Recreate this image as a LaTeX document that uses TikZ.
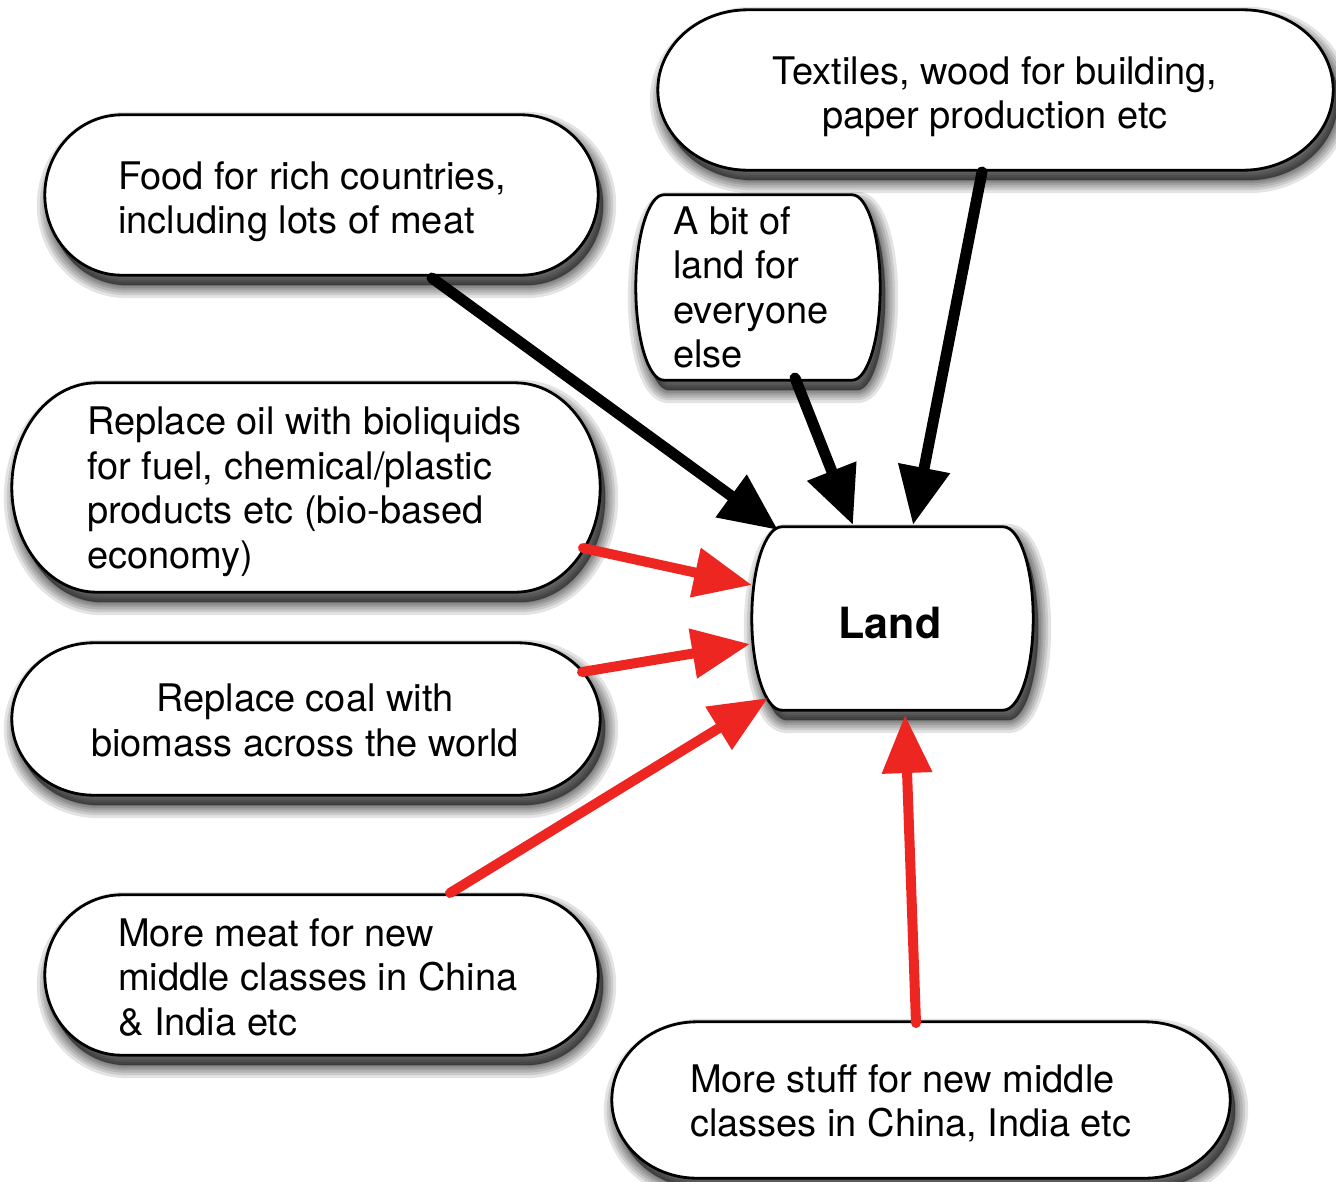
\documentclass[tikz,border=0pt]{standalone}
\usepackage{fontspec}
\setmainfont{TeX Gyre Heros}
\usetikzlibrary{arrows.meta,calc}
\pgfdeclarelayer{shadowlayer}
\pgfdeclarelayer{boxlayer}
\pgfsetlayers{shadowlayer,boxlayer,main}
\definecolor{arrred}{RGB}{238,38,34}
\newcommand\pillpath[2]{let \p1=(#1.north west), \p2=(#1.south east), \n1={(\y1-\y2)/2} in
  (\x1+#2pt,\y1) -- (\x2-#2pt,\y1) arc[start angle=90,end angle=-90,x radius=#2pt,y radius=\n1]
  -- (\x1+#2pt,\y2) arc[start angle=270,end angle=90,x radius=#2pt,y radius=\n1] -- cycle}
\begin{document}
\begin{tikzpicture}[x=1pt,y=1pt,
  pill/.style={rectangle, inner sep=0pt, draw=none},
  txt/.style={font=\fontsize{38}{44.5}\selectfont, inner sep=0pt, align=left},
  txtc/.style={font=\fontsize{38}{44.5}\selectfont, inner sep=0pt, align=center},
  blackarrow/.style={draw=black, line width=11pt, line cap=round, -{Triangle[length=58pt,width=50pt]}},
  redarrow/.style={draw=arrred, line width=10pt, line cap=round, -{Triangle[length=58pt,width=48pt]}}]
\useasboundingbox (0,0) rectangle (1336,-1181);

% box geometry nodes
\node[pill, minimum width=553pt, minimum height=160pt] (food) at (321.5,-195) {};
\node[pill, minimum width=675pt, minimum height=160pt] (textiles) at (995.5,-90) {};
\node[pill, minimum width=244pt, minimum height=185pt] (bit) at (758,-287.5) {};
\node[pill, minimum width=588pt, minimum height=209pt] (oil) at (306,-487.5) {};
\node[pill, minimum width=588pt, minimum height=152pt] (coal) at (306,-719) {};
\node[pill, minimum width=553pt, minimum height=160pt] (meat) at (321.5,-975) {};
\node[pill, minimum width=618pt, minimum height=156pt] (stuff) at (921,-1100) {};
\node[pill, minimum width=281pt, minimum height=183pt] (land) at (892.5,-618.5) {};

% texts
\node[txt, anchor=north west] (foodtext) at (118,-161) {Food for rich countries,\\including lots of meat};
\node[txtc, anchor=north] (textilestext) at (995,-56) {Textiles, wood for building,\\paper production etc};
\node[txt, anchor=north west] (bittext) at (673,-206) {A bit of\\land for\\everyone\\else};
\node[txt, anchor=north west] (oiltext) at (87,-407) {Replace oil with bioliquids\\for fuel, chemical/plastic\\products etc (bio-based\\economy)};
\node[txtc, anchor=north] (coaltext) at (305,-684) {Replace coal with\\biomass across the world};
\node[txt, anchor=north west] (meattext) at (118,-918) {More meat for new\\middle classes in China\\\& India etc};
\node[txt, anchor=north west] (stufftext) at (690,-1064) {More stuff for new middle\\classes in China, India etc};
\node[inner sep=0pt, font=\fontsize{43}{50}\selectfont\bfseries] (landtext) at (890,-623) {Land};

% background and shadows
\begin{pgfonlayer}{shadowlayer}
\fill[white] (0,0) rectangle (1336,-1181);
\begin{scope}[transform canvas={shift={(5pt,-10pt)}}]
\foreach \nd/\bb in {food/77,textiles/90,bit/28,oil/85,coal/82,meat/77,stuff/85,land/30}{
  \foreach \ww in {26,20,15,10,6,2}{
    \filldraw[black, opacity=0.11, line width=\ww pt, line join=round] \pillpath{\nd}{\bb};
  }
}
\end{scope}
\end{pgfonlayer}

% boxes
\begin{pgfonlayer}{boxlayer}
\foreach \nd/\bb in {food/77,textiles/90,bit/28,oil/85,coal/82,meat/77,stuff/85,land/30}{
  \filldraw[fill=white, draw=black, line width=2.8pt] \pillpath{\nd}{\bb};
}
\end{pgfonlayer}

% arrow end points
\coordinate (foodout) at (432,-278);
\coordinate (landfood) at (778,-530);
\coordinate (bitout) at (795,-378);
\coordinate (landbit) at (853,-525);
\coordinate (textilesout) at (982,-172);
\coordinate (landtextiles) at (913,-525);
\coordinate (oilout) at (583,-548);
\coordinate (landoil) at (752,-585);
\coordinate (coalout) at (582,-672);
\coordinate (landcoal) at (750,-644);
\coordinate (meatout) at (450,-893);
\coordinate (landmeat) at (768,-698);
\coordinate (stuffout) at (916,-1023);
\coordinate (landstuff) at (905,-715);

\draw[blackarrow] (foodout) -- (landfood);
\draw[blackarrow] (bitout) -- (landbit);
\draw[blackarrow] (textilesout) -- (landtextiles);
\draw[redarrow] (oilout) -- (landoil);
\draw[redarrow] (coalout) -- (landcoal);
\draw[redarrow] (meatout) -- (landmeat);
\draw[redarrow] (stuffout) -- (landstuff);
\end{tikzpicture}
\end{document}
